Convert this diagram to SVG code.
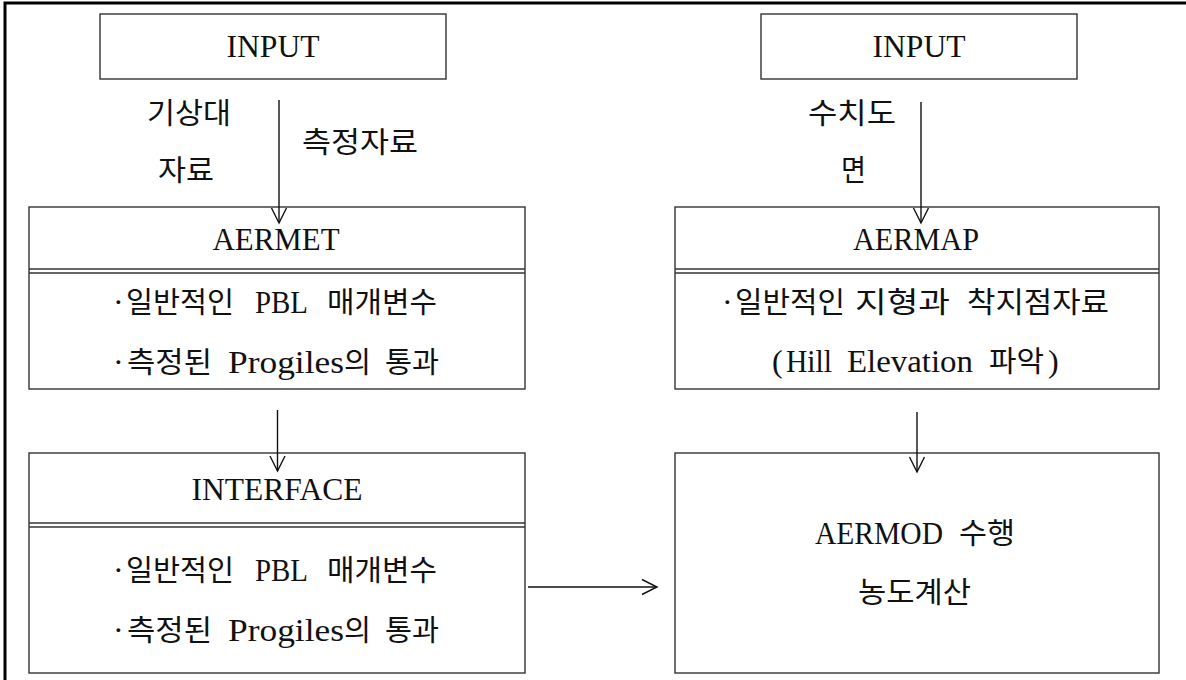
<svg xmlns="http://www.w3.org/2000/svg" width="1186" height="680" viewBox="0 0 1186 680">
  <style>
    .bg { fill: #ffffff; }
    .frame { fill: none; stroke: #000; stroke-width: 3; }
    .box { fill: #ffffff; stroke: #333; stroke-width: 1.4; }
    .sep { stroke: #333; stroke-width: 1.4; }
    .t { font-family: "Liberation Serif", serif; font-size: 32px; fill: #111; }
    .k { font-family: "Noto Sans CJK KR", sans-serif; font-size: 29px; fill: #111; }
    .lbl { font-family: "Noto Sans CJK KR", sans-serif; font-size: 29px; fill: #111; }
    .conn { fill: none; stroke: #111; stroke-width: 1.4; }
  </style>
  <defs>
    <marker id="open" markerUnits="userSpaceOnUse" viewBox="-17 -10 20 20" refX="0" refY="0" markerWidth="20" markerHeight="20" orient="auto">
      <path d="M-15,-7.5 L0,0 L-15,7.5" fill="none" stroke="#111" stroke-width="1.4"/>
    </marker>
  </defs>

  <rect class="bg" x="0" y="0" width="1186" height="680"/>
  <!-- outer frame, open to the right and bottom -->
  <rect class="frame" x="5" y="3" width="1200" height="700"/>

  <!-- left column -->
  <g id="input-left">
    <rect class="box" x="100" y="14" width="346" height="65"/>
    <text class="t" x="273" y="57" text-anchor="middle" textLength="93" lengthAdjust="spacingAndGlyphs">INPUT</text>
  </g>

  <g id="aermet">
    <rect class="box" x="29" y="207" width="496" height="182"/>
    <line class="sep" x1="29" y1="269" x2="525" y2="269"/>
    <line class="sep" x1="29" y1="273" x2="525" y2="273"/>
    <text class="t" x="276" y="250" text-anchor="middle" textLength="127" lengthAdjust="spacingAndGlyphs">AERMET</text>
    <text class="t" x="113" y="313">·</text>
    <text class="k" x="126" y="313" textLength="108" lengthAdjust="spacingAndGlyphs">일반적인</text>
    <text class="t" x="255" y="313" textLength="53" lengthAdjust="spacingAndGlyphs">PBL</text>
    <text class="k" x="327" y="313" textLength="110" lengthAdjust="spacingAndGlyphs">매개변수</text>
    <text class="t" x="113" y="373">·</text>
    <text class="k" x="127" y="373" textLength="85" lengthAdjust="spacingAndGlyphs">측정된</text>
    <text class="t" x="228" y="373" textLength="116" lengthAdjust="spacingAndGlyphs">Progiles</text>
    <text class="k" x="344" y="373" textLength="27" lengthAdjust="spacingAndGlyphs">의</text>
    <text class="k" x="385" y="373" textLength="54" lengthAdjust="spacingAndGlyphs">통과</text>
  </g>

  <g id="interface">
    <rect class="box" x="29" y="453" width="496" height="220"/>
    <line class="sep" x1="29" y1="523" x2="525" y2="523"/>
    <line class="sep" x1="29" y1="527" x2="525" y2="527"/>
    <text class="t" x="277" y="500" text-anchor="middle" textLength="171" lengthAdjust="spacingAndGlyphs">INTERFACE</text>
    <text class="t" x="113" y="581">·</text>
    <text class="k" x="126" y="581" textLength="108" lengthAdjust="spacingAndGlyphs">일반적인</text>
    <text class="t" x="255" y="581" textLength="53" lengthAdjust="spacingAndGlyphs">PBL</text>
    <text class="k" x="327" y="581" textLength="110" lengthAdjust="spacingAndGlyphs">매개변수</text>
    <text class="t" x="113" y="641">·</text>
    <text class="k" x="127" y="641" textLength="85" lengthAdjust="spacingAndGlyphs">측정된</text>
    <text class="t" x="228" y="641" textLength="116" lengthAdjust="spacingAndGlyphs">Progiles</text>
    <text class="k" x="344" y="641" textLength="27" lengthAdjust="spacingAndGlyphs">의</text>
    <text class="k" x="385" y="641" textLength="54" lengthAdjust="spacingAndGlyphs">통과</text>
  </g>

  <!-- right column -->
  <g id="input-right">
    <rect class="box" x="761" y="14" width="316" height="65"/>
    <text class="t" x="919" y="57" text-anchor="middle" textLength="93" lengthAdjust="spacingAndGlyphs">INPUT</text>
  </g>

  <g id="aermap">
    <rect class="box" x="675" y="207" width="484" height="182"/>
    <line class="sep" x1="675" y1="269" x2="1159" y2="269"/>
    <line class="sep" x1="675" y1="273" x2="1159" y2="273"/>
    <text class="t" x="916" y="250" text-anchor="middle" textLength="126" lengthAdjust="spacingAndGlyphs">AERMAP</text>
    <text class="t" x="722" y="313">·</text>
    <text class="k" x="735" y="313" textLength="110" lengthAdjust="spacingAndGlyphs">일반적인</text>
    <text class="k" x="855" y="313" textLength="95" lengthAdjust="spacingAndGlyphs">지형과</text>
    <text class="k" x="967" y="313" textLength="142" lengthAdjust="spacingAndGlyphs">착지점자료</text>
    <text class="t" x="772" y="372">(</text>
    <text class="t" x="786" y="372" textLength="46" lengthAdjust="spacingAndGlyphs">Hill</text>
    <text class="t" x="847" y="372" textLength="126" lengthAdjust="spacingAndGlyphs">Elevation</text>
    <text class="k" x="989" y="372" textLength="55" lengthAdjust="spacingAndGlyphs">파악</text>
    <text class="t" x="1048" y="372">)</text>
  </g>

  <g id="aermod">
    <rect class="box" x="675" y="453" width="484" height="220"/>
    <text class="t" x="815" y="544" textLength="128" lengthAdjust="spacingAndGlyphs">AERMOD</text>
    <text class="k" x="959" y="544" textLength="56" lengthAdjust="spacingAndGlyphs">수행</text>
    <text class="k" x="858" y="603" textLength="113" lengthAdjust="spacingAndGlyphs">농도계산</text>
  </g>

  <!-- connectors and their labels -->
  <g id="connectors">
    <line class="conn" x1="279" y1="100" x2="279" y2="223" marker-end="url(#open)"/>
    <line class="conn" x1="277.5" y1="410" x2="277.5" y2="471" marker-end="url(#open)"/>
    <line class="conn" x1="921" y1="102" x2="921" y2="223" marker-end="url(#open)"/>
    <line class="conn" x1="917" y1="412" x2="917" y2="472" marker-end="url(#open)"/>
    <line class="conn" x1="528" y1="587" x2="657" y2="587" marker-end="url(#open)"/>
    <text class="lbl" x="147" y="124" textLength="84" lengthAdjust="spacingAndGlyphs">기상대</text>
    <text class="lbl" x="158" y="181" textLength="56" lengthAdjust="spacingAndGlyphs">자료</text>
    <text class="lbl" x="302" y="153" textLength="116" lengthAdjust="spacingAndGlyphs">측정자료</text>
    <text class="lbl" x="808" y="124" textLength="88" lengthAdjust="spacingAndGlyphs">수치도</text>
    <text class="lbl" x="841" y="181" textLength="25" lengthAdjust="spacingAndGlyphs">면</text>
  </g>
</svg>
